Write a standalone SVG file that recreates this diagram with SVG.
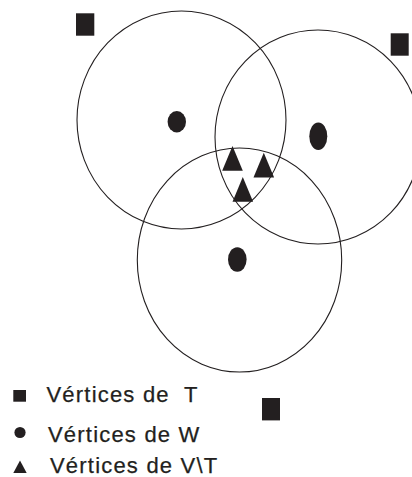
<svg xmlns="http://www.w3.org/2000/svg" width="412" height="477" viewBox="0 0 412 477">
  <style>
    .ring { fill: none; stroke: #231f20; stroke-width: 1.1; }
    .mark { fill: #231f20; }
    .lbl { font-family: "Liberation Sans", Arial, sans-serif; font-size: 22px; letter-spacing: 1.2px; fill: #231f20; stroke: #231f20; stroke-width: 0.25; white-space: pre; }
  </style>
  <defs>
    <polygon id="tri" points="0,0 10.3,24.7 -10.3,24.7"/>
  </defs>
  <rect width="412" height="477" fill="#ffffff"/>
  <g id="rings">
    <ellipse id="ring-1" class="ring" cx="181.5" cy="120" rx="104.5" ry="109"/>
    <ellipse id="ring-2" class="ring" cx="318" cy="137" rx="103" ry="107"/>
    <ellipse id="ring-3" class="ring" cx="239.5" cy="260" rx="102.2" ry="112"/>
  </g>
  <g id="squares" class="mark">
    <rect x="76" y="13.3" width="18.3" height="22.4"/>
    <rect x="390.7" y="33.3" width="18" height="22.4"/>
    <rect x="262" y="398" width="18" height="22.4"/>
  </g>
  <g id="dots" class="mark">
    <ellipse cx="176.8" cy="121.7" rx="9.2" ry="10.7"/>
    <ellipse cx="318.3" cy="136.3" rx="9" ry="13.7"/>
    <ellipse cx="237.3" cy="259.5" rx="9.3" ry="12.2"/>
  </g>
  <g id="triangles" class="mark">
    <use href="#tri" x="232.5" y="146"/>
    <use href="#tri" x="263.8" y="152.7"/>
    <use href="#tri" x="242.8" y="177"/>
  </g>
  <g id="legend">
    <rect class="mark" x="13.3" y="390" width="12.7" height="11.7"/>
    <text class="lbl" x="46.5" y="401.5" xml:space="preserve">Vértices de  T</text>
    <circle class="mark" cx="20" cy="432.5" r="5.6"/>
    <text class="lbl" x="48" y="441.5">Vértices de W</text>
    <polygon class="mark" points="20,460.5 26.7,473 13.3,473"/>
    <text class="lbl" x="50" y="472.5">Vértices de V\T</text>
  </g>
</svg>
